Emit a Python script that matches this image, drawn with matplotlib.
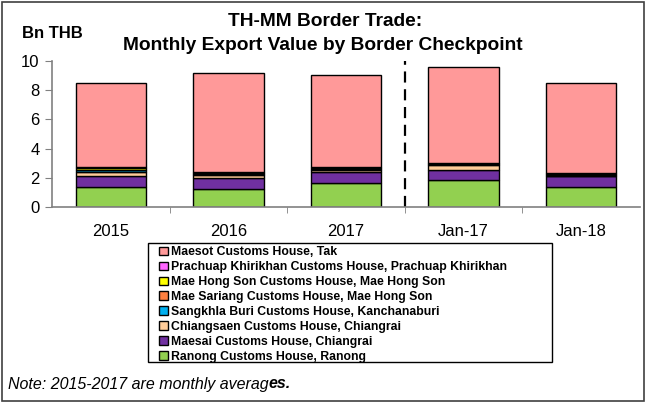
import matplotlib
matplotlib.use("Agg")
import matplotlib.pyplot as plt
from matplotlib.patches import Rectangle
import numpy as np

plt.rcParams['font.family'] = ['Liberation Sans', 'DejaVu Sans']

categories = ["2015", "2016", "2017", "Jan-17", "Jan-18"]
series_names = [
    "Ranong Customs House, Ranong",
    "Maesai Customs House, Chiangrai",
    "Chiangsaen Customs House, Chiangrai",
    "Sangkhla Buri Customs House, Kanchanaburi",
    "Mae Sariang Customs House, Mae Hong Son",
    "Mae Hong Son Customs House, Mae Hong Son",
    "Prachuap Khirikhan Customs House, Prachuap Khirikhan",
    "Maesot Customs House, Tak",
]
ranong      = [1.38, 1.22, 1.66, 1.86, 1.38]
maesai      = [0.76, 0.76, 0.71, 0.67, 0.71]
chiangsaen  = [0.27, 0.21, 0.18, 0.35, 0.05]
sangkhla    = [0.10, 0.06, 0.07, 0.04, 0.06]
maesariang  = [0.05, 0.04, 0.05, 0.02, 0.04]
maehongson  = [0.10, 0.04, 0.05, 0.04, 0.04]
prachuap    = [0.05, 0.04, 0.04, 0.02, 0.04]
maesot      = [5.77, 6.80, 6.27, 6.59, 6.16]
series = [ranong, maesai, chiangsaen, sangkhla, maesariang, maehongson, prachuap, maesot]
colors = ["#92D050", "#7030A0", "#FFCC99", "#00B0F0", "#FF8040", "#FFFF00", "#FF66FF", "#FF9999"]

W, H = 646, 403
fig = plt.figure(figsize=(W/100, H/100), dpi=100)
ax = fig.add_axes([52/W, 1-207/H, (640-52)/W, (207-61)/H])

x = np.arange(len(categories))
bottom = np.zeros(len(categories))
handles = []
for vals, c, name in zip(series, colors, series_names):
    b = ax.bar(x, vals, width=0.6, bottom=bottom, color=c, edgecolor="black", linewidth=1.0, label=name)
    handles.append(b)
    bottom += np.array(vals)

ax.set_xlim(-0.5, 4.5)
ax.set_ylim(0, 10)
ax.set_yticks([0, 2, 4, 6, 8, 10])
ax.set_xticks(x)
ax.set_xticklabels(categories, fontsize=12)
ax.set_xticks(np.arange(0.5, 4.5, 1), minor=True)
ax.tick_params(axis='x', which='major', length=0, pad=12)
ax.tick_params(axis='x', which='minor', length=4, color='#808080')
ax.tick_params(axis='y', labelsize=12, length=5, color='#808080', pad=4)
for s in ['top', 'right']:
    ax.spines[s].set_visible(False)
for s in ['left', 'bottom']:
    ax.spines[s].set_color('#808080')
    ax.spines[s].set_linewidth(1.2)

# dashed separator
ax.axvline(2.5, ymin=0, ymax=1.0, color='black', linestyle=(0, (5, 3)), linewidth=1.6, clip_on=False)

fig.text(325/W, 1-22/H, "TH-MM Border Trade:", ha='center', va='center', fontsize=13.8, fontweight='bold')
fig.text(323/W, 1-46/H, "Monthly Export Value by Border Checkpoint", ha='center', va='center', fontsize=13.8, fontweight='bold')
fig.text(22/W, 1-33/H, "Bn THB", ha='left', va='center', fontsize=12, fontweight='bold')

# legend box
fig.patches.append(Rectangle((148/W, 1-362/H), (552-148)/W, (362-243)/H, transform=fig.transFigure,
                             fill=False, edgecolor='black', linewidth=1.0))
leg = fig.legend(handles[::-1], series_names[::-1], loc='upper left',
                 bbox_to_anchor=(158/W, 1-245/H), frameon=False,
                 prop={'size': 8.8, 'weight': 'bold'}, handlelength=0.7, handleheight=0.7,
                 handletextpad=0.25, labelspacing=0.24, borderaxespad=0, borderpad=0.1)

# note
t1 = fig.text(8/W, 1-384/H, "Note: 2015-2017 are monthly averag", ha='left', va='center', fontsize=11.5, style='italic')
fig.canvas.draw()
r = fig.canvas.get_renderer()
bb = t1.get_window_extent(r)
fig.text(bb.x1/W, 1-384/H, "es.", ha='left', va='center', fontsize=11.5, style='italic', fontweight='bold')

# outer border
fig.patches.append(Rectangle((2/W, 2/H), (W-4)/W, (H-4)/H, transform=fig.transFigure,
                             fill=False, edgecolor='#404040', linewidth=1.2))

fig.savefig("out.png", dpi=100)
